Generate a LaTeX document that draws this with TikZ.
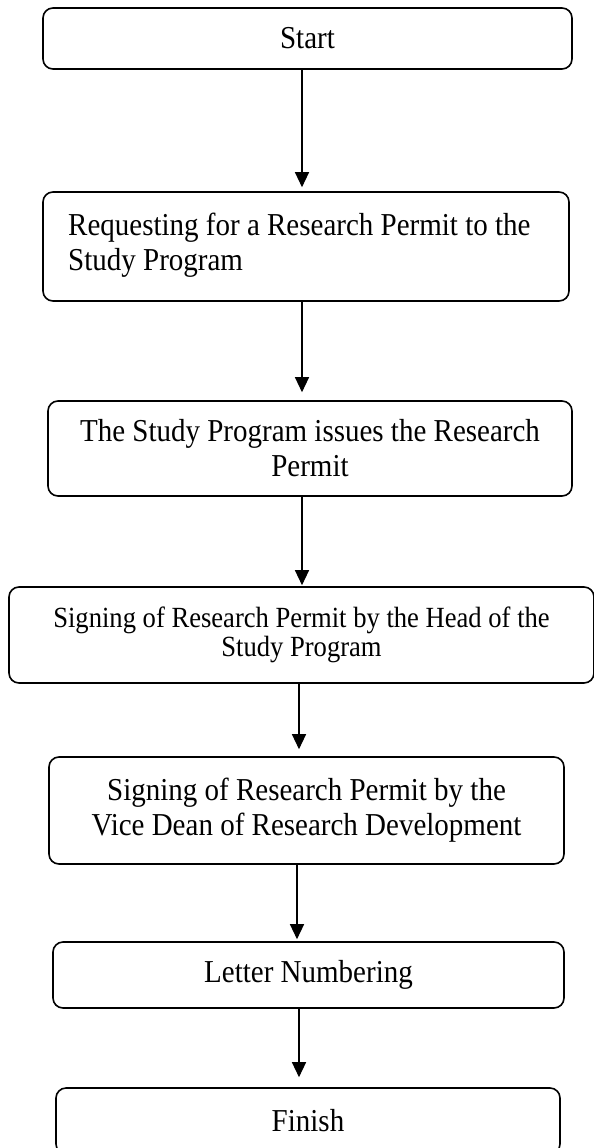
\documentclass[tikz,border=0pt]{standalone}
\usepackage{fontspec}
\usepackage{graphicx}
\setmainfont{Liberation Serif}
\usetikzlibrary{arrows.meta}
% slightly tall lettering, one line at a time
\newcommand\tallline[1]{\scalebox{1}[1.1]{#1}}
\begin{document}
\begin{tikzpicture}[x=1pt,y=-1pt,
  txt/.style={inner sep=0pt, font=\fontsize{29}{35}\selectfont},
  box/.style={txt, draw, line width=1.6pt, rounded corners=10pt, align=center},
  arr/.style={line width=1.3pt, -{Triangle[length=15pt,width=14pt]}}]
\useasboundingbox (0,0) rectangle (594,1148);
\fill[white] (0,0) rectangle (594,1148);

% process steps
\node[box, minimum width=529pt, minimum height=61pt] (b1) at (307.5,38.5)
  {\tallline{Start}};
\node[box, minimum width=526pt, minimum height=109pt] (b2) at (306,246.5) {};
\node[txt, anchor=west, align=left] (b2t) at (68,245)
  {\tallline{Requesting for a Research Permit to the}\\\tallline{Study Program}};
\node[box, minimum width=524pt, minimum height=95pt] (b3) at (310,448.5)
  {\tallline{The Study Program issues the Research}\\\tallline{Permit}};
\node[box, minimum width=585pt, minimum height=96pt,
  font=\fontsize{26.6}{29}\selectfont] (b4) at (301.5,635)
  {\tallline{Signing of Research Permit by the Head of the}\\\tallline{Study Program}};
\node[box, minimum width=515pt, minimum height=107pt] (b5) at (306.5,810.5)
  {\tallline{Signing of Research Permit by the}\\\tallline{Vice Dean of Research Development}};
\node[box, minimum width=511pt, minimum height=66pt] (b6) at (308.5,975)
  {\tallline{Letter Numbering}};
\node[box, minimum width=504pt, minimum height=66pt] (b7) at (308,1121)
  {\tallline{Finish}};

% connectors
\draw[arr, shorten >=4pt] (b1.south -| 302,0) -- (b2.north -| 302,0);
\draw[arr, shorten >=8pt] (b2.south -| 302,0) -- (b3.north -| 302,0);
\draw[arr, shorten >=1pt] (b3.south -| 302,0) -- (b4.north -| 302,0);
\draw[arr, shorten >=7pt] (b4.south -| 299,0) -- (b5.north -| 299,0);
\draw[arr, shorten >=2pt] (b5.south -| 297,0) -- (b6.north -| 297,0);
\draw[arr, shorten >=10pt] (b6.south -| 299,0) -- (b7.north -| 299,0);
\end{tikzpicture}
\end{document}
